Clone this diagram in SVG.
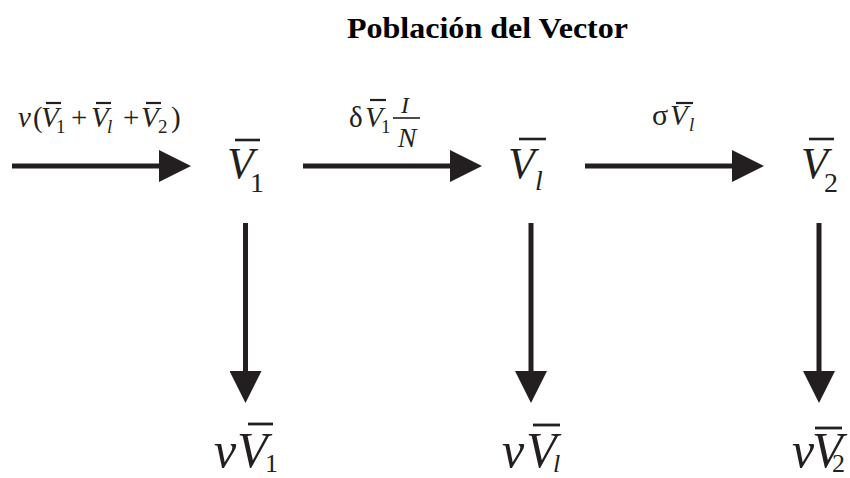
<svg xmlns="http://www.w3.org/2000/svg" width="850" height="478" viewBox="0 0 850 478">
<style>
.t{font-family:"Liberation Serif","Times New Roman",serif;fill:#231f20}
.i{font-style:italic}
.title{font-weight:bold;font-size:30px;fill:#000}
.bar{stroke:#231f20;stroke-width:2.2}
.conn{stroke:#231f20;stroke-width:5;fill:none}
</style>
<defs>
<marker id="ah" viewBox="0 0 32 32" refX="1" refY="16" markerWidth="32" markerHeight="32" markerUnits="userSpaceOnUse" orient="auto">
<path d="M0,0 L32,16 L0,32 Z" fill="#231f20"/>
</marker>
</defs>
<rect width="850" height="478" fill="#fff"/>
<text id="title" class="t title" x="347" y="38" textLength="281" lengthAdjust="spacingAndGlyphs">Población del Vector</text>

<g id="connectors">
<line class="conn" x1="12" y1="166" x2="160" y2="166" marker-end="url(#ah)"/>
<line class="conn" x1="303" y1="166" x2="451" y2="166" marker-end="url(#ah)"/>
<line class="conn" x1="585" y1="166" x2="733" y2="166" marker-end="url(#ah)"/>
<line class="conn" x1="245.5" y1="223" x2="245.5" y2="372" marker-end="url(#ah)"/>
<line class="conn" x1="531" y1="223" x2="531" y2="372" marker-end="url(#ah)"/>
<line class="conn" x1="819" y1="223" x2="819" y2="372" marker-end="url(#ah)"/>
</g>

<g id="label-inflow">
<text class="t i" x="18" y="127" font-size="29">v</text>
<text class="t" x="33" y="127" font-size="29">(</text>
<text class="t i" x="41" y="127" font-size="29">V</text>
<line class="bar" x1="46" y1="103" x2="61" y2="103"/>
<text class="t" x="56" y="133" font-size="19">1</text>
<text class="t" x="71" y="127" font-size="29">+</text>
<text class="t i" x="91" y="127" font-size="29">V</text>
<line class="bar" x1="96" y1="103" x2="111" y2="103"/>
<text class="t i" x="107" y="133" font-size="19">l</text>
<text class="t" x="123" y="127" font-size="29">+</text>
<text class="t i" x="141" y="127" font-size="29">V</text>
<line class="bar" x1="146" y1="103" x2="161" y2="103"/>
<text class="t" x="158" y="133" font-size="19">2</text>
<text class="t" x="171" y="127" font-size="29">)</text>
</g>

<g id="label-infection">
<text class="t" x="349" y="127" font-size="29">δ</text>
<text class="t i" x="365" y="127" font-size="29">V</text>
<line class="bar" x1="370" y1="100" x2="386" y2="100"/>
<text class="t" x="381" y="133" font-size="19">1</text>
<text class="t i" x="405" y="113" font-size="24" text-anchor="middle">I</text>
<line class="bar" x1="393" y1="118" x2="420" y2="118" style="stroke-width:1.6"/>
<text class="t i" x="407" y="147" font-size="28" text-anchor="middle">N</text>
</g>

<g id="label-progress">
<text class="t" x="652" y="125" font-size="30">σ</text>
<text class="t i" x="670" y="125" font-size="29">V</text>
<line class="bar" x1="676" y1="103" x2="693" y2="103"/>
<text class="t i" x="689" y="131" font-size="19">l</text>
</g>

<g id="node-V1">
<text class="t i" x="227" y="178" font-size="44">V</text>
<line class="bar" x1="235" y1="140" x2="260" y2="140" style="stroke-width:2.6"/>
<text class="t" x="250" y="192" font-size="28">1</text>
</g>

<g id="node-Vl">
<text class="t i" x="508" y="178" font-size="44">V</text>
<line class="bar" x1="519" y1="139" x2="546" y2="139" style="stroke-width:2.6"/>
<text class="t i" x="535" y="190" font-size="28">l</text>
</g>

<g id="node-V2">
<text class="t i" x="801" y="178" font-size="44">V</text>
<line class="bar" x1="809" y1="139" x2="834" y2="139" style="stroke-width:2.6"/>
<text class="t" x="824" y="192" font-size="28">2</text>
</g>

<g id="node-death1">
<text class="t i" x="214" y="467" font-size="50">v</text>
<text class="t i" x="237" y="467" font-size="50">V</text>
<line class="bar" x1="248" y1="424" x2="273" y2="424" style="stroke-width:2.8"/>
<text class="t" x="265" y="472" font-size="26">1</text>
</g>

<g id="node-deathl">
<text class="t i" x="502" y="467" font-size="50">v</text>
<text class="t i" x="526" y="467" font-size="50">V</text>
<line class="bar" x1="533" y1="425" x2="560" y2="425" style="stroke-width:2.8"/>
<text class="t i" x="553" y="472" font-size="26">l</text>
</g>

<g id="node-death2">
<text class="t i" x="792" y="467" font-size="50">v</text>
<text class="t i" x="812" y="467" font-size="50">V</text>
<line class="bar" x1="815" y1="428" x2="842" y2="428" style="stroke-width:2.8"/>
<text class="t" x="832" y="472" font-size="26">2</text>
</g>
</svg>
